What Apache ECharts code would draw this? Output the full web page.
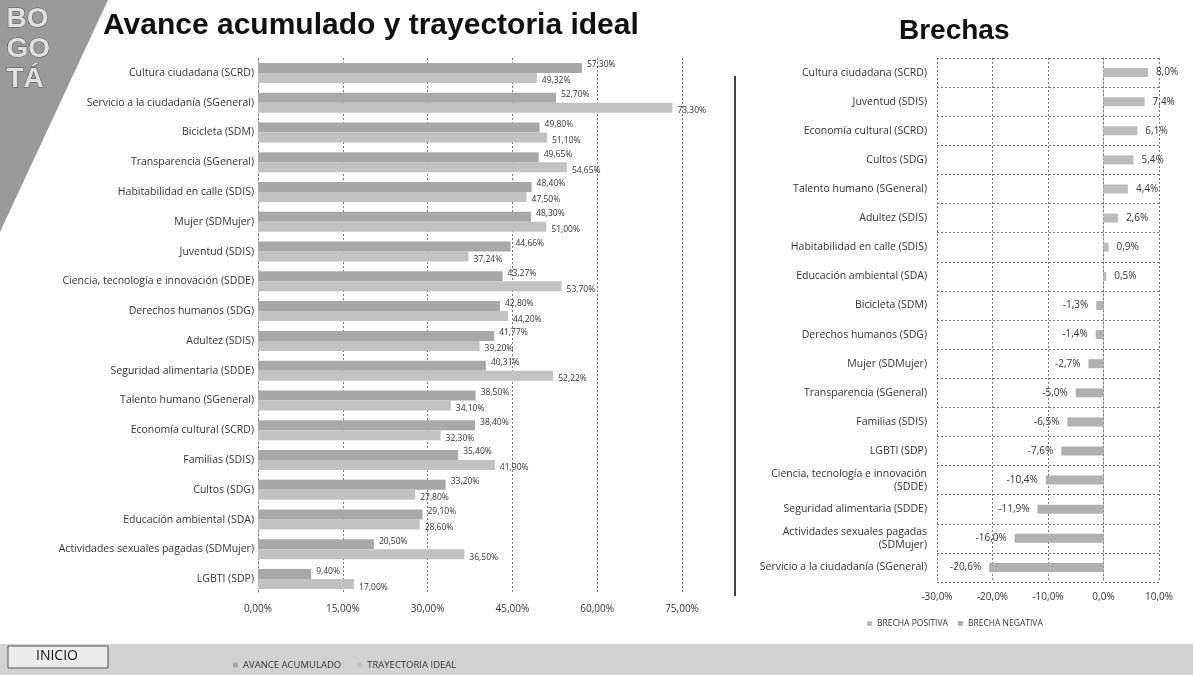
<!DOCTYPE html>
<html>
<head>
<meta charset="utf-8">
<script src="https://cdn.jsdelivr.net/npm/echarts@6/dist/echarts.min.js"></script>
<style>
  html, body { margin: 0; padding: 0; background: #fff; }
  #layout { width: 1193px; height: 675px; }
</style>
</head>
<body>
<div id="layout"></div>
<script>
// datos del tablero
const categorias = ['Cultura ciudadana (SCRD)', 'Servicio a la ciudadanía (SGeneral)', 'Bicicleta (SDM)',
    'Transparencia (SGeneral)', 'Habitabilidad en calle (SDIS)', 'Mujer (SDMujer)', 'Juventud (SDIS)',
    'Ciencia, tecnología e innovación (SDDE)', 'Derechos humanos (SDG)', 'Adultez (SDIS)',
    'Seguridad alimentaria (SDDE)', 'Talento humano (SGeneral)', 'Economía cultural (SCRD)',
    'Familias (SDIS)', 'Cultos (SDG)', 'Educación ambiental (SDA)',
    'Actividades sexuales pagadas (SDMujer)', 'LGBTI (SDP)'];
const avance = [57.30, 52.70, 49.80, 49.65, 48.40, 48.30, 44.66, 43.27, 42.80, 41.77, 40.31, 38.50, 38.40, 35.40, 33.20, 29.10, 20.50, 9.40];
const trayectoria = [49.32, 73.30, 51.10, 54.65, 47.50, 51.00, 37.24, 53.70, 44.20, 39.20, 52.22, 34.10, 32.30, 41.90, 27.80, 28.60, 36.50, 17.00];

const catBrechas = ['Cultura ciudadana (SCRD)', 'Juventud (SDIS)', 'Economía cultural (SCRD)', 'Cultos (SDG)',
    'Talento humano (SGeneral)', 'Adultez (SDIS)', 'Habitabilidad en calle (SDIS)', 'Educación ambiental (SDA)',
    'Bicicleta (SDM)', 'Derechos humanos (SDG)', 'Mujer (SDMujer)', 'Transparencia (SGeneral)',
    'Familias (SDIS)', 'LGBTI (SDP)', 'Ciencia, tecnología e innovación\n(SDDE)', 'Seguridad alimentaria (SDDE)',
    'Actividades sexuales pagadas\n(SDMujer)', 'Servicio a la ciudadanía (SGeneral)'];
const brechas = [8.0, 7.4, 6.1, 5.4, 4.4, 2.6, 0.9, 0.5, -1.3, -1.4, -2.7, -5.0, -6.5, -7.6, -10.4, -11.9, -16.0, -20.6];

function pct(v, d) { return v.toFixed(d).replace('.', ',') + '%'; }

let myChart = echarts.init(document.getElementById('layout'));
const fuente = 'Open Sans';
const gris = '#333';

let brechaPos = brechas.map(v => v >= 0 ? v : '-');
let brechaNeg = brechas.map(v => v < 0 ? v : '-');

let option = {
    backgroundColor: '#fff',
    animation: false,
    textStyle: { fontFamily: fuente },
    title: [
        { text: 'Avance acumulado y trayectoria ideal', left: 98, top: 6,
          textStyle: { fontFamily: 'Liberation Sans', fontSize: 30, fontWeight: 'bold', color: '#111' } },
        { text: 'Brechas', left: 894, top: 12,
          textStyle: { fontFamily: 'Liberation Sans', fontSize: 28, fontWeight: 'bold', color: '#111' } }
    ],
    legend: [
        { data: ['AVANCE ACUMULADO', 'TRAYECTORIA IDEAL'], left: 228, top: 655, itemWidth: 5, itemHeight: 5,
          itemGap: 16, textStyle: { fontSize: 9.5, color: gris } },
        { data: ['BRECHA POSITIVA', 'BRECHA NEGATIVA'], left: 862, top: 614, itemWidth: 5, itemHeight: 5,
          itemGap: 10, textStyle: { fontSize: 8.5, color: gris } }
    ],
    grid: [
        { left: 258, width: 424, top: 58, height: 536 },
        { left: 937, width: 222, top: 58, height: 524 }
    ],
    xAxis: [
        { gridIndex: 0, type: 'value', min: 0, max: 75, interval: 15,
          axisLine: { show: false }, axisTick: { show: false },
          axisLabel: { formatter: v => pct(v, 2), fontSize: 10, color: gris, margin: 10 },
          splitLine: { lineStyle: { type: [2, 2], color: '#777' } } },
        { gridIndex: 1, type: 'value', min: -30, max: 10, interval: 10,
          axisLine: { show: false }, axisTick: { show: false },
          axisLabel: { formatter: v => pct(v, 1), fontSize: 10, color: gris, margin: 10 },
          splitLine: { lineStyle: { type: [2, 2], color: '#777' } } }
    ],
    yAxis: [
        { gridIndex: 0, type: 'category', data: categorias, inverse: true,
          axisLine: { lineStyle: { type: [2, 2], color: '#777' } }, axisTick: { show: false },
          axisLabel: { fontSize: 10.5, color: gris, margin: 4 } },
        { gridIndex: 1, type: 'category', data: catBrechas, inverse: true,
          axisLine: { lineStyle: { type: [2, 2], color: '#777' } }, axisTick: { show: false },
          axisLabel: { fontSize: 10.5, color: gris, margin: 10, lineHeight: 13 },
          splitLine: { show: true, lineStyle: { type: [2, 2], color: '#777' } } }
    ],
    series: [
        { name: 'AVANCE ACUMULADO', type: 'bar', xAxisIndex: 0, yAxisIndex: 0, data: avance,
          barWidth: 10, barGap: '0%', itemStyle: { color: '#a8a8a8' },
          label: { show: true, position: 'right', offset: [0, -3], fontSize: 8.5, color: gris,
                   formatter: p => pct(p.value, 2) } },
        { name: 'TRAYECTORIA IDEAL', type: 'bar', xAxisIndex: 0, yAxisIndex: 0, data: trayectoria,
          barWidth: 10, itemStyle: { color: '#c2c2c2' },
          label: { show: true, position: 'right', offset: [0, 3], fontSize: 8.5, color: gris,
                   formatter: p => pct(p.value, 2) } },
        { name: 'BRECHA POSITIVA', type: 'bar', xAxisIndex: 1, yAxisIndex: 1, data: brechaPos,
          barWidth: 9, barGap: '-100%', itemStyle: { color: '#bcbcbc' },
          label: { show: true, position: 'right', distance: 8, fontSize: 10, color: gris,
                   formatter: p => pct(p.value, 1) } },
        { name: 'BRECHA NEGATIVA', type: 'bar', xAxisIndex: 1, yAxisIndex: 1, data: brechaNeg,
          barWidth: 9, itemStyle: { color: '#b0b0b0' },
          label: { show: true, position: 'left', distance: 8, fontSize: 10, color: gris,
                   formatter: p => pct(p.value, 1) } }
    ],
    graphic: [
        // logo
        { type: 'polygon', shape: { points: [[0, 0], [108, 0], [0, 232]] }, style: { fill: '#9a9a9a' }, z: -1 },
        { type: 'text', left: 6, top: 4, style: { text: 'BO\nGO\nTÁ', font: 'bold 28px "Liberation Sans"',
          lineHeight: 30, fill: '#e0e0e0', stroke: '#555', lineWidth: 1 } },
        // separador
        { type: 'line', shape: { x1: 735, y1: 76, x2: 735, y2: 596 }, style: { stroke: '#444', lineWidth: 2 } },
        // franja inferior
        { type: 'rect', shape: { x: 0, y: 644, width: 1193, height: 31 }, style: { fill: '#d2d2d2' }, z: -2 },
        { type: 'rect', shape: { x: 8, y: 646, width: 100, height: 22 }, style: { fill: '#ececec', stroke: '#555', lineWidth: 1 }, z: -1 },
        { type: 'text', left: 36, top: 649, style: { text: 'INICIO', font: '14px "Open Sans"', fill: '#111' } }
    ]
};
myChart.setOption(option);
</script>
</body>
</html>
